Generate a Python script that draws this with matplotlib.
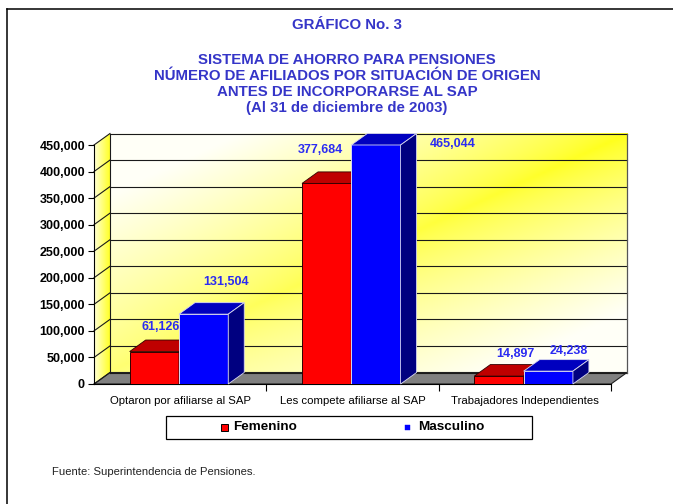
import numpy as np
import matplotlib
matplotlib.use('Agg')
import matplotlib.pyplot as plt
from matplotlib.patches import Polygon, Rectangle
from matplotlib.lines import Line2D

# ---------------- data ----------------
categories = ['Optaron por afiliarse al SAP', 'Les compete afiliarse al SAP',
              'Trabajadores Independientes']
series_names = ['Femenino', 'Masculino']
femenino = [61126, 377684, 14897]
masculino = [131504, 465044, 24238]
yticks = [0, 50000, 100000, 150000, 200000, 250000, 300000, 350000, 400000, 450000]
ytick_labels = ['0', '50,000', '100,000', '150,000', '200,000', '250,000',
                '300,000', '350,000', '400,000', '450,000']
title_lines = ['GRÁFICO No. 3',
               'SISTEMA DE AHORRO PARA PENSIONES',
               'NÚMERO DE AFILIADOS POR SITUACIÓN DE ORIGEN',
               'ANTES DE INCORPORARSE AL SAP',
               '(Al 31 de diciembre de 2003)']
source_text = 'Fuente: Superintendencia de Pensiones.'

# ---------------- style ----------------
plt.rcParams['font.family'] = ['Liberation Sans', 'DejaVu Sans']
W, H = 673, 504
TITLE_COLOR = '#3535C8'
LABEL_COLOR = '#2B2BF2'
front_colors = ['#FF0000', '#0000FF']
top_colors = ['#BF0000', '#0000BF']
side_colors = ['#800000', '#000080']
edge_colors = ['#300000', '#D8D8F0']
# label offsets (pixels) relative to bar top center, per series per group
label_offsets = [[(6, 25), (-6, 33), (16, 22)],
                 [(22, 32), (77, 1), (20, 20)]]

fig = plt.figure(figsize=(W / 100, H / 100), dpi=100)
fig.patch.set_facecolor('white')

def fx(px):
    return px / W

def fy(py):
    return 1 - py / H

ymax = yticks[-1]
ncat = len(categories)
ax = fig.add_axes([fx(94), fy(384), 517 / W, 239 / H])
ax.patch.set_visible(False)

# depth offsets in data units
DXp, DYp = 16, 11.5
dx = DXp * ncat / 517
dy = DYp * ymax / 239

# back wall gradient (diagonal band of yellow)
nu, nv = 200, 100
u = np.linspace(0, 1, nu)[None, :]
v = np.linspace(0, 1, nv)[:, None]
d = np.clip(np.abs(v - u) / 0.75, 0, 1) ** 0.8
yel = np.array([1.0, 1.0, 0.1])
pale = np.array([1.0, 1.0, 0.97])
t = d[..., None]
img = yel * (1 - t) + pale * t
img[..., 2] = np.clip(img[..., 2] + (1 - (u + v) / 2) * 0.35 * (1 - d), 0, 1)
ax.imshow(img, extent=(dx, ncat + dx, dy, ymax + dy), origin='lower',
          aspect='auto', zorder=0, clip_on=False, interpolation='bilinear')

# left side wall gradient strips
nstrip = 16
for k in range(nstrip):
    a0, a1 = k / nstrip, (k + 1) / nstrip
    c = 0.85 - 0.7 * ((k + 0.5) / nstrip)
    poly = Polygon([(a0 * dx, a0 * dy), (a1 * dx, a1 * dy),
                    (a1 * dx, ymax + a1 * dy), (a0 * dx, ymax + a0 * dy)],
                   closed=True, facecolor=(1, 1, c), edgecolor='none',
                   zorder=0.5, clip_on=False)
    ax.add_patch(poly)

# floor
ax.add_patch(Polygon([(0, 0), (ncat, 0), (ncat + dx, dy), (dx, dy)], closed=True,
                     facecolor='#808080', edgecolor='#202020', lw=0.8,
                     zorder=1, clip_on=False))

# gridlines on back wall and left wall
for tv in yticks:
    ax.plot([dx, ncat + dx], [tv + dy, tv + dy], color='#1a1a1a', lw=0.8,
            zorder=1.2, clip_on=False)
    ax.plot([0, dx], [tv, tv + dy], color='#1a1a1a', lw=0.8,
            zorder=1.2, clip_on=False)
ax.plot([dx, dx], [dy, ymax + dy], color='#1a1a1a', lw=0.8, zorder=1.2, clip_on=False)
ax.plot([ncat + dx, ncat + dx], [dy, ymax + dy], color='#555555', lw=0.9,
        zorder=1.2, clip_on=False)

# bars
width = 0.286
gcenter = 0.493
offsets = [-0.143, 0.143]
x = np.arange(ncat)
all_series = [femenino, masculino]
for s, vals in enumerate(all_series):
    xc = x + gcenter + offsets[s]
    bars = ax.bar(xc, vals, width=width, color=front_colors[s],
                  edgecolor=edge_colors[s], lw=0.7)
    for i, (b, val) in enumerate(zip(bars, vals)):
        z = 3 + s * 0.2
        b.set_zorder(z)
        h = min(val, ymax)
        x0, x1 = xc[i] - width / 2, xc[i] + width / 2
        ax.add_patch(Polygon([(x0, h), (x1, h), (x1 + dx, h + dy), (x0 + dx, h + dy)],
                             closed=True, facecolor=top_colors[s],
                             edgecolor=edge_colors[s], lw=0.6, zorder=z + 0.05,
                             clip_on=False))
        ax.add_patch(Polygon([(x1, 0), (x1 + dx, dy), (x1 + dx, h + dy), (x1, h)],
                             closed=True, facecolor=side_colors[s],
                             edgecolor=edge_colors[s], lw=0.6, zorder=z + 0.05,
                             clip_on=False))
        ox, oy = label_offsets[s][i]
        ax.annotate(f'{val:,}', xy=(xc[i], h), xytext=(ox, oy),
                    textcoords='offset pixels', ha='center', va='center',
                    fontsize=9, fontweight='bold', color=LABEL_COLOR,
                    zorder=6, annotation_clip=False)

ax.set_xlim(0, ncat)
ax.set_ylim(0, ymax)

# axes styling
for sp in ['top', 'right']:
    ax.spines[sp].set_visible(False)
ax.spines['left'].set_linewidth(0.8)
ax.spines['bottom'].set_linewidth(0.8)
ax.spines['left'].set_zorder(2)
ax.spines['bottom'].set_zorder(2)
ax.set_yticks(yticks)
ax.set_yticklabels(ytick_labels, fontsize=9, fontweight='bold')
ax.tick_params(axis='y', direction='out', length=4, width=0.8, pad=2.5)
ax.set_xticks([1, 2, 3])
ax.set_xticklabels([])
ax.tick_params(axis='x', which='major', direction='out', length=5, width=0.8)
ax.set_xticks(x + 0.5, minor=True)
ax.set_xticklabels(categories, minor=True, fontsize=8.2)
ax.tick_params(axis='x', which='minor', length=0, pad=9)

# titles
title_baselines = [29, 64, 80, 96, 112]
for line, by in zip(title_lines, title_baselines):
    fig.text(fx(347), fy(by), line, ha='center', va='baseline', fontsize=10.8,
             fontweight='bold', color=TITLE_COLOR)

# legend (manual box)
fig.add_artist(Rectangle((fx(166), fy(439)), (532 - 166) / W, 23 / H,
                         transform=fig.transFigure, facecolor='white',
                         edgecolor='black', lw=0.9))
fig.add_artist(Rectangle((fx(220.5), fy(430.5)), 7 / W, 7 / H,
                         transform=fig.transFigure, facecolor=front_colors[0],
                         edgecolor='black', lw=0.7))
fig.add_artist(Rectangle((fx(404.5), fy(429.5)), 5 / W, 5 / H,
                         transform=fig.transFigure, facecolor=front_colors[1],
                         edgecolor=front_colors[1], lw=0.3))
fig.text(fx(233), fy(427), series_names[0], ha='left', va='center',
         fontsize=9.7, fontweight='bold')
fig.text(fx(418), fy(427), series_names[1], ha='left', va='center',
         fontsize=9.7, fontweight='bold')

# source
fig.text(fx(52), fy(472), source_text, ha='left', va='center', fontsize=8.1,
         color='#222222')

# page frame
fig.add_artist(Line2D([fx(7), 1], [fy(9.3), fy(9.3)], transform=fig.transFigure,
                      color='black', lw=1.1))
fig.add_artist(Line2D([fx(7.3), fx(7.3)], [fy(9.3), 0], transform=fig.transFigure,
                      color='black', lw=1.1))

fig.savefig('out.png', dpi=100)
